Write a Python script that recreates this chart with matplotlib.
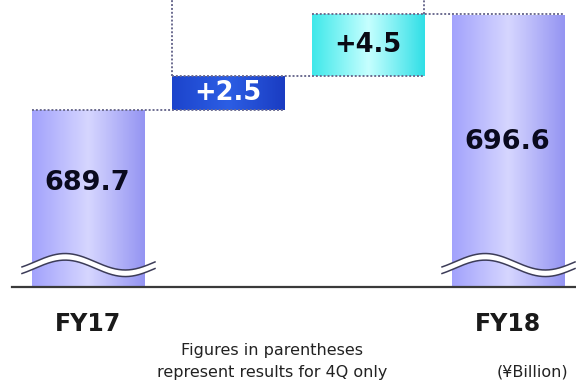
import numpy as np
import matplotlib
matplotlib.use("Agg")
import matplotlib.pyplot as plt
from matplotlib.colors import LinearSegmentedColormap

# Net sales bridge FY17 -> FY18 (¥Billion)
categories = ["FY17", "", "", "FY18"]
start_value = 689.7
deltas = [2.5, 4.5]
delta_labels = ["+2.5", "+4.5"]
end_value = 696.6
total_labels = ["689.7", "696.6"]

axis_floor = 676.8
y_top = 697.72

fy_colors = ["#a2a2fc", "#d6d6ff", "#9494f2"]
delta_colors = [["#1c44cc", "#2c5ee4", "#1a3cc2"],
                ["#3ee8ea", "#c6ffff", "#30dfe6"]]
delta_text_colors = ["white", "#0a0a14"]


def gradient_fill(ax, bar, colors):
    cmap = LinearSegmentedColormap.from_list("g", colors)
    x0, y0 = bar.get_xy()
    w, h = bar.get_width(), bar.get_height()
    img = ax.imshow(np.linspace(0, 1, 256).reshape(1, -1), cmap=cmap,
                    extent=[x0, x0 + w, y0, y0 + h], aspect="auto",
                    interpolation="bilinear", zorder=bar.get_zorder() + 0.1)
    img.set_clip_path(bar)


def break_mark(ax, xc, yc):
    # axis break squiggle
    x = np.linspace(xc - 0.468, xc + 0.482, 200)
    y = yc + 0.6 * np.sin(2 * np.pi * (x - xc + 0.16) / 0.86 + np.pi / 2)
    ax.plot(x, y, color="white", lw=4.8, zorder=5, solid_capstyle="butt")
    ax.plot(x, y + 0.24, color="#3c3c58", lw=1.1, zorder=6)
    ax.plot(x, y - 0.24, color="#3c3c58", lw=1.1, zorder=6)


fig = plt.figure(figsize=(5.76, 3.85), dpi=100)
ax = fig.add_axes([0, 98 / 385, 1, 287 / 385])

width = 0.8
xs = np.arange(len(categories))

# totals
totals = [start_value, end_value]
tot_x = [xs[0], xs[3]]
tot_bars = ax.bar(tot_x, [v - axis_floor for v in totals], bottom=axis_floor,
                  width=width, color=fy_colors[0], zorder=2, linewidth=0)
for b in tot_bars:
    gradient_fill(ax, b, fy_colors)

# deltas
cum = [start_value]
for d in deltas:
    cum.append(cum[-1] + d)
d_bars = ax.bar(xs[1:3], deltas, bottom=cum[:-1], width=width,
                color=[c[0] for c in delta_colors], zorder=2, linewidth=0)
for b, cols in zip(d_bars, delta_colors):
    gradient_fill(ax, b, cols)

# dotted connectors
dot = dict(color="#6c6c90", lw=1.4, linestyle=(0, (1, 1)), zorder=4)
ax.plot([xs[0] - width / 2, xs[1] + width / 2], [cum[0]] * 2, **dot)
ax.plot([xs[1] - width / 2, xs[2] + width / 2], [cum[1]] * 2, **dot)
ax.plot([xs[2] - width / 2, xs[3] + width / 2], [cum[2]] * 2, **dot)
ax.plot([xs[1] - width / 2] * 2, [cum[1], y_top + 1], **dot)
ax.plot([xs[2] + width / 2] * 2, [cum[2], y_top + 1], **dot)

# labels in bars
label_y = [684.4, 687.4]
for x, y, t in zip(tot_x, label_y, total_labels):
    ax.text(x, y, t, ha="center", va="center", fontsize=19.5,
            fontweight="bold", color="#0a0a1e", zorder=7)
for i, (t, c) in enumerate(zip(delta_labels, delta_text_colors)):
    ax.text(xs[1 + i], cum[i] + deltas[i] / 2, t, ha="center", va="center",
            fontsize=18.5, fontweight="bold", color=c, zorder=7)

# axis breaks
for x in tot_x:
    break_mark(ax, x, 678.4)

ax.axhline(axis_floor + 0.02, xmin=12 / 576, xmax=1, color="#3a3a3a", lw=1.6,
           zorder=8, clip_on=False)

ax.set_xlim(-0.625, 3.489)
ax.set_ylim(axis_floor, y_top)
ax.axis("off")

# category labels and notes
for x, t in zip(xs, categories):
    if t:
        ax.text(x, -37 / 287, t, transform=ax.get_xaxis_transform(),
                ha="center", va="center", fontsize=17, fontweight="bold",
                color="#1a1a1a")
fig.text(272 / 576, 1 - 350 / 385, "Figures in parentheses", ha="center",
         va="center", fontsize=11.5, color="#222222")
fig.text(272 / 576, 1 - 372 / 385, "represent results for 4Q only",
         ha="center", va="center", fontsize=11.5, color="#222222")
fig.text(532 / 576, 1 - 372 / 385, "(¥Billion)", ha="center", va="center",
         fontsize=11.5, color="#222222")

fig.savefig("out.png", dpi=100)
